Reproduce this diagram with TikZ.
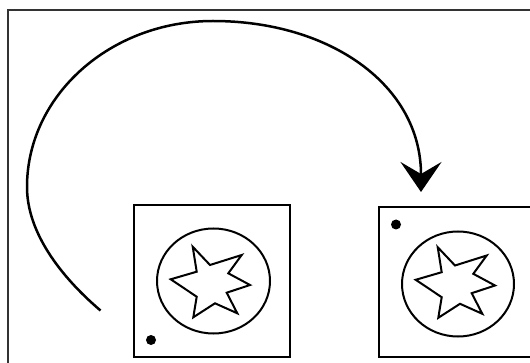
\documentclass[tikz,border=0pt]{standalone}
\usetikzlibrary{arrows.meta}
\tikzset{
  framestyle/.style={line width=1.5pt, draw=black!80},
  boxstyle/.style={line width=2.5pt, draw=black},
  rimstyle/.style={line width=2pt, draw=black},
  starstyle/.style={line width=2pt, draw=black, line join=miter},
  arcstyle/.style={line width=2.5pt, draw=black, -{Stealth[length=30pt, width=41pt, inset=12pt]}},
  dotstyle/.style={fill=black},
  pics/bolt/.style={code={
    \draw[starstyle] (-18.3,-35.3) -- (-1,-17) -- (30.7,-27) -- (17.3,-8.7) -- (39,3)
      -- (15.7,10.7) -- (26.3,31.3) -- (4,21.3) -- (-17.7,35.3) -- (-14.3,14.7)
      -- (-40.3,-2.7) -- (-14.3,-10.3) -- cycle;
  }}
}
\begin{document}
\begin{tikzpicture}[x=1pt,y=-1pt]
\useasboundingbox (0,0) rectangle (530,363);
\clip (0,0) rectangle (530,363);
\fill[white] (0,0) rectangle (530,363);
% outer frame
\draw[framestyle] (8,380) -- (8,10) -- (545,10);
% left box
\draw[boxstyle] (134,205) rectangle (290,357);
\draw[rimstyle] (213.5,281) ellipse [x radius=56.5, y radius=52.5];
\pic at (211,282) {bolt};
\fill[dotstyle] (151,340) circle [radius=5];
% right box
\draw[boxstyle] (379,207) rectangle (540,357);
\draw[rimstyle] (458,284) ellipse [x radius=56, y radius=52.5];
\pic at (456,282.5) {bolt};
\fill[dotstyle] (396,224.5) circle [radius=5];
% arc
\coordinate (s) at (100.5,310.5);
\coordinate (l) at (27,187);
\coordinate (t) at (213,21);
\coordinate (e) at (421,192);
\draw[arcstyle] (s) .. controls (60,276) and (27,232) .. (l)
  .. controls (27,95.4) and (110.3,21) .. (t)
  .. controls (330,21) and (421,85) .. (e);
\end{tikzpicture}
\end{document}
